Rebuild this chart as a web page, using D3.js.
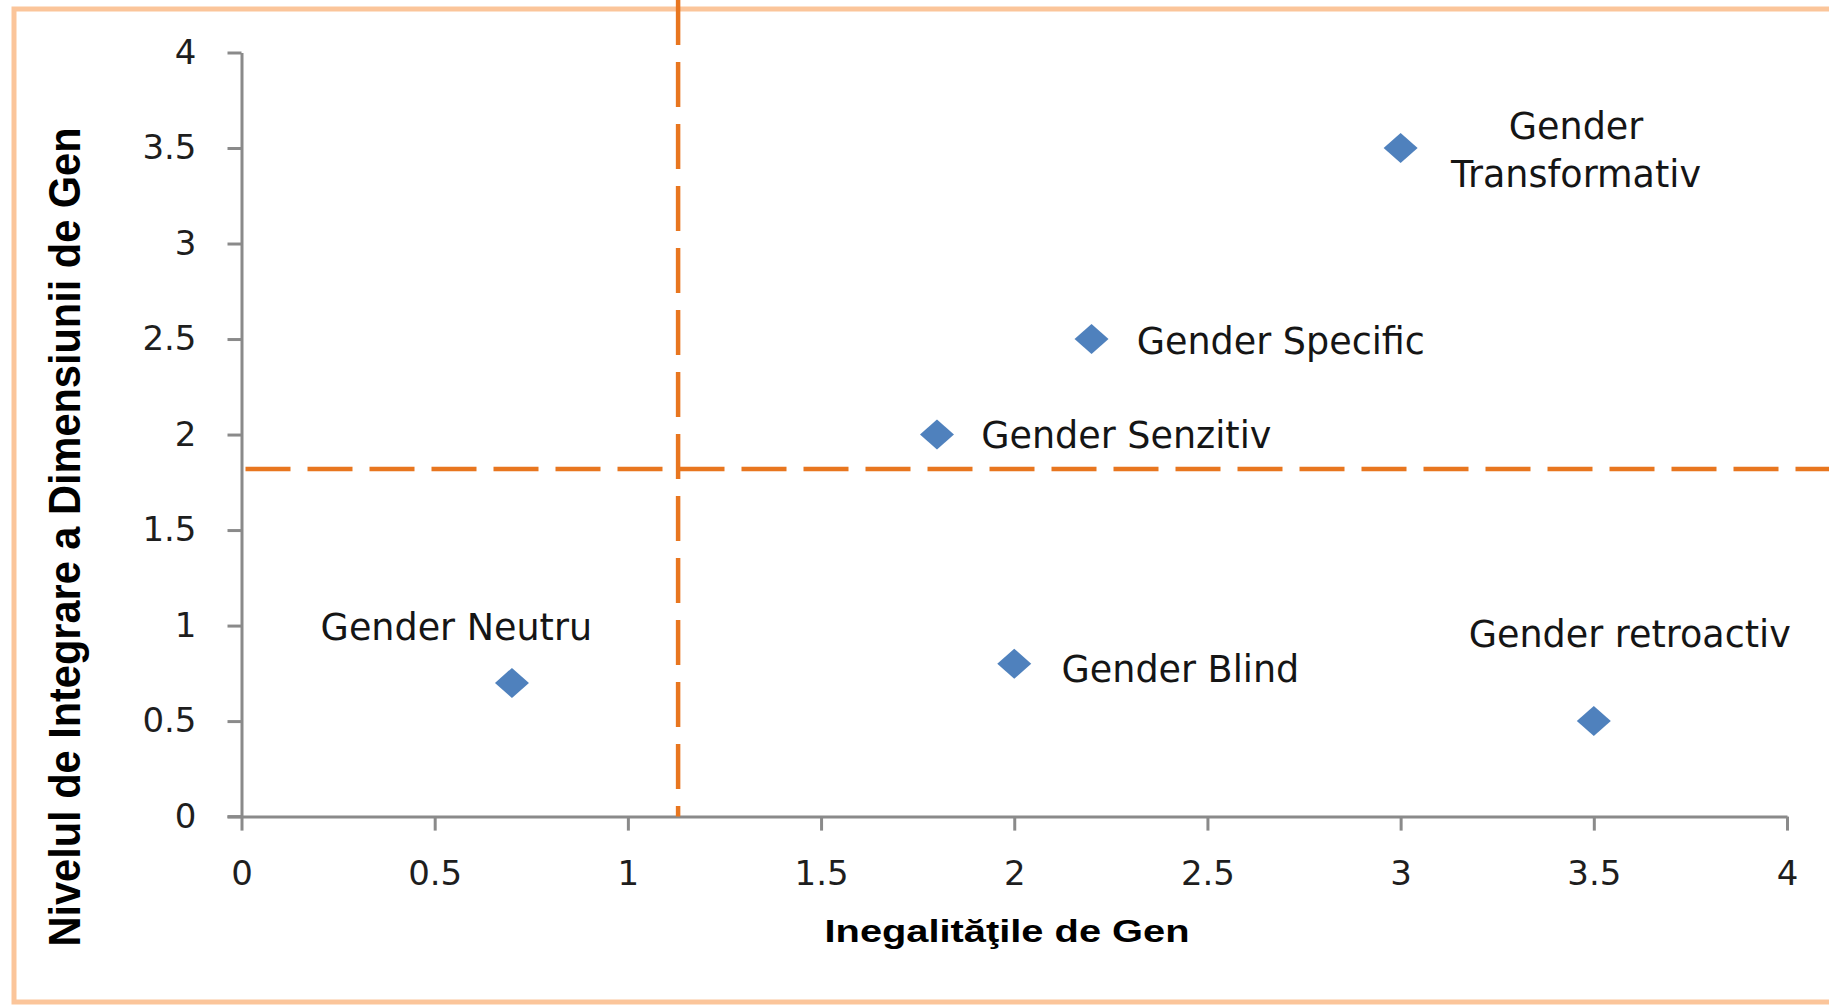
<!DOCTYPE html>
<html>
<head>
<meta charset="utf-8">
<style>
  body { margin: 0; background: #fff; overflow: hidden; }
  svg { display: block; overflow: hidden; }
  .tick text { font-family: "DejaVu Sans", Verdana, sans-serif; font-size: 34px; fill: #1e1e1e; }
  .domain, .tick line { stroke: #8a8a8a; stroke-width: 3px; }
  .label { font-family: "DejaVu Sans", Verdana, sans-serif; font-size: 36.5px; fill: #151515; }
  .title { font-family: "Liberation Sans Narrow", "Liberation Sans", Arial, sans-serif; font-weight: bold; fill: #000; }
</style>
</head>
<body>
<script src="https://d3js.org/d3.v7.min.js"></script>
<script>

// data
var names = ["Gender Neutru", "Gender Blind", "Gender Senzitiv", "Gender Specific", "Gender Transformativ", "Gender retroactiv"];
var xValues = [0.7, 2.0, 1.8, 2.2, 3.0, 3.5];
var yValues = [0.7, 0.8, 2.0, 2.5, 3.5, 0.5];
// where each label sits, in data units (label centre)
var labelX = [0.556, 2.43, 2.29, 2.69, 3.454, 3.593];
var labelY = [0.987, 0.768, 1.993, 2.485, 3.485, 0.951];
var labelLines = [["Gender Neutru"], ["Gender Blind"], ["Gender Senzitiv"], ["Gender Specific"], ["Gender", "Transformativ"], ["Gender retroactiv"]];

var tickValues = [0, 0.5, 1, 1.5, 2, 2.5, 3, 3.5, 4];
var tickLabels = ["0", "0.5", "1", "1.5", "2", "2.5", "3", "3.5", "4"];

var refX = 1.13;   // vertical dashed line
var refY = 1.82;   // horizontal dashed line

var xTitle = "Inegalităţile de Gen";
var yTitle = "Nivelul de Integrare a Dimensiunii de Gen";

var width = 1829,
    height = 1007;

var svg = d3.select("body").append("svg")
    .attr("width", width)
    .attr("height", height);

// outer chart frame (runs off the right edge)
svg.append("rect")
    .attr("x", 14)
    .attr("y", 9)
    .attr("width", 3000)
    .attr("height", 993)
    .attr("fill", "none")
    .attr("stroke", "#fbc59a")
    .attr("stroke-width", 5);

var x = d3.scaleLinear().domain([0, 4]).range([241.5, 1787]);
var y = d3.scaleLinear().domain([0, 4]).range([816.6, 52.5]);

// axes
var xAxis = d3.axisBottom(x)
    .tickValues(tickValues)
    .tickFormat(function(d, i) { return tickLabels[i]; })
    .tickSize(14)
    .tickSizeOuter(0)
    .tickPadding(30);

var yAxis = d3.axisLeft(y)
    .tickValues(tickValues)
    .tickFormat(function(d, i) { return tickLabels[i]; })
    .tickSize(14)
    .tickSizeOuter(0)
    .tickPadding(31);

svg.append("g")
    .attr("transform", "translate(0," + y(0) + ")")
    .call(xAxis);

svg.append("g")
    .attr("transform", "translate(" + x(0) + ",0)")
    .call(yAxis);

// extend x axis a little to the left of the y axis, like the original
svg.append("line")
    .attr("x1", x(0) - 14).attr("x2", x(0))
    .attr("y1", y(0)).attr("y2", y(0))
    .attr("stroke", "#8a8a8a").attr("stroke-width", 3);

// dashed reference lines
svg.append("line")
    .attr("x1", x(refX)).attr("x2", x(refX))
    .attr("y1", 0).attr("y2", y(0))
    .attr("stroke", "#e8761f")
    .attr("stroke-width", 4.5)
    .attr("stroke-dasharray", "45,17");

svg.append("line")
    .attr("x1", x(0)).attr("x2", width)
    .attr("y1", y(refY)).attr("y2", y(refY))
    .attr("stroke", "#e8761f")
    .attr("stroke-width", 4.5)
    .attr("stroke-dasharray", "45,17")
    .attr("stroke-dashoffset", -4);

// points
var pts = d3.range(names.length);

svg.selectAll(".pt")
    .data(pts)
    .enter()
    .append("path")
    .attr("class", "pt")
    .attr("d", "M0,-15L17,0L0,15L-17,0Z")
    .attr("fill", "#4f81bd")
    .attr("transform", function(i) { return "translate(" + x(xValues[i]) + "," + y(yValues[i]) + ")"; });

// labels
var lineGap = 48;
pts.forEach(function(i) {
  var lines = labelLines[i];
  var t = svg.append("text")
      .attr("class", "label")
      .attr("text-anchor", "middle");
  lines.forEach(function(s, k) {
    var off = (k - (lines.length - 1) / 2) * lineGap + 12;
    t.append("tspan")
      .attr("x", x(labelX[i]))
      .attr("y", y(labelY[i]) + off)
      .text(s);
  });
});

// axis titles
svg.append("text")
    .attr("class", "title")
    .attr("x", 1007)
    .attr("y", 942)
    .attr("text-anchor", "middle")
    .attr("font-size", 32)
    .attr("textLength", 365)
    .attr("lengthAdjust", "spacingAndGlyphs")
    .text(xTitle);

svg.append("text")
    .attr("class", "title")
    .attr("transform", "translate(80,537) rotate(-90)")
    .attr("text-anchor", "middle")
    .attr("font-size", 44)
    .attr("textLength", 819)
    .attr("lengthAdjust", "spacingAndGlyphs")
    .text(yTitle);

</script>
</body>
</html>
